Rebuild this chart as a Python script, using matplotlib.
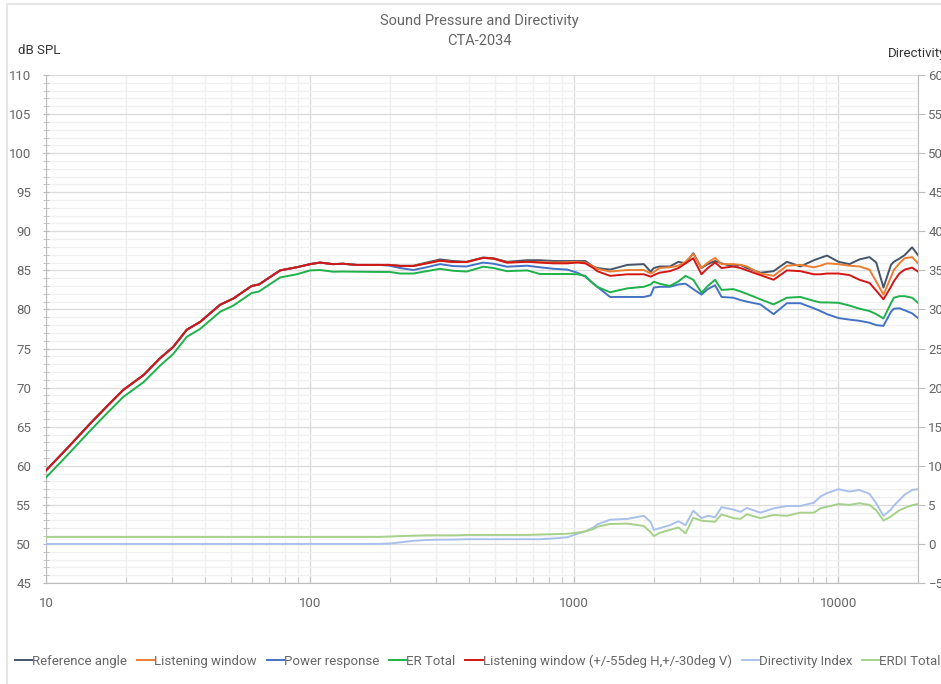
import matplotlib
matplotlib.use("Agg")
import matplotlib.pyplot as plt
from matplotlib.patches import Rectangle
from matplotlib.ticker import FixedLocator, NullFormatter, FuncFormatter
import numpy as np

plt.rcParams['font.family'] = ['Roboto', 'DejaVu Sans']

freq = [10, 12, 14.7, 17, 19.6, 23.4, 27, 30.3, 34.1, 38.3, 45.6, 51.2, 60, 64, 77, 89,
        100, 109, 122, 133, 150, 184, 200, 219, 246, 276, 310, 348, 391, 452, 495, 556,
        663, 740, 838, 941, 1027, 1100, 1180, 1221, 1366, 1588, 1832, 1945, 2000, 2100,
        2300, 2480, 2635, 2820, 3030, 3200, 3410, 3610, 4000, 4260, 4500, 5060, 5680,
        6380, 7170, 8070, 8540, 9050, 10000, 11000, 12000, 13100, 13900, 14800, 15800,
        16200, 17000, 17800, 19000, 20000]

rise = [59.4, 62.2, 65.4, 67.6, 69.7, 71.6, 73.75, 75.2, 77.4, 78.4, 80.6, 81.4, 83.0, 83.2, 85.0, 85.4]

lw2_spl = rise + [85.8, 86.0, 85.8, 85.85, 85.7, 85.7, 85.7, 85.56, 85.56, 85.9, 86.24, 86.07, 86.07, 86.6, 86.5, 86.0,
                  86.1, 86.0, 85.9, 85.9, 86.0, 85.9, 85.3, 84.9, 84.3, 84.5, 84.5, 84.2, 84.4, 84.7,
                  84.9, 85.3, 85.9, 86.55, 84.5, 85.3, 86.0, 85.3, 85.5, 85.3, 85.0, 84.4, 83.8,
                  85.0, 84.9, 84.5, 84.5, 84.6, 84.6, 84.4, 83.8, 83.4, 82.4, 81.3, 82.9,
                  83.6, 84.6, 85.1, 85.35, 84.85]

ref_spl = rise + [85.8, 86.0, 85.8, 85.85, 85.7, 85.7, 85.7, 85.6, 85.6, 86.0, 86.4, 86.2, 86.1, 86.65, 86.55, 86.1,
                  86.3, 86.3, 86.2, 86.2, 86.2, 86.2, 85.5, 85.3, 85.1, 85.7, 85.8, 84.85, 85.3, 85.5,
                  85.5, 86.1, 85.9, 87.2, 85.3, 85.8, 86.2, 85.9, 85.5, 85.7, 85.3, 84.7, 84.9,
                  86.1, 85.5, 86.3, 86.6, 86.9, 86.1, 85.8, 86.4, 86.7, 86.0, 82.8, 85.7,
                  86.1, 86.5, 86.95, 87.95, 86.95]

lw_spl = rise + [85.8, 86.0, 85.8, 85.85, 85.7, 85.7, 85.7, 85.56, 85.56, 85.9, 86.24, 86.07, 86.07, 86.6, 86.5, 86.0,
                 86.1, 86.05, 86.0, 86.05, 86.1, 86.0, 85.5, 85.2, 84.85, 85.05, 85.05, 84.6, 84.8, 85.3,
                 85.4, 85.6, 86.1, 87.1, 85.3, 86.0, 86.6, 85.8, 85.8, 85.7, 85.5, 84.6, 84.3,
                 85.6, 85.7, 85.4, 85.6, 85.9, 85.8, 85.6, 85.5, 85.1, 83.55, 81.9, 84.15,
                 85.05, 85.9, 86.55, 86.7, 85.9]

pr_spl = rise + [85.8, 86.0, 85.8, 85.85, 85.7, 85.7, 85.6, 85.3, 85.05, 85.4, 85.8, 85.55, 85.5, 86.0, 85.85, 85.47,
                 85.6, 85.4, 85.2, 85.1, 84.7, 84.2, 83.3, 82.9, 81.6, 81.6, 81.6, 81.8, 82.8, 82.9,
                 82.9, 83.2, 83.3, 82.6, 81.9, 82.6, 83.1, 81.6, 81.5, 81.2, 81.0, 80.65, 79.4,
                 80.8, 80.8, 80.15, 79.8, 79.4, 78.9, 78.7, 78.55, 78.3, 78.0, 77.9, 79.7,
                 80.1, 80.15, 79.9, 79.5, 78.9]

er_spl = [58.5, 61.3, 64.5, 66.7, 68.8, 70.7, 72.8, 74.3, 76.5, 77.5, 79.7, 80.5, 82.1, 82.3, 84.1, 84.5,
          85.0, 85.05, 84.83, 84.85, 84.83, 84.8, 84.8, 84.6, 84.6, 84.9, 85.2, 84.95, 84.85, 85.47, 85.3, 84.9,
          85.0, 84.54, 84.54, 84.54, 84.5, 84.3, 83.3, 82.9, 82.2, 82.7, 82.9, 83.2, 83.55, 83.3,
          83.0, 83.6, 84.3, 83.8, 82.15, 83.0, 83.8, 82.5, 82.6, 82.3, 82.0, 81.3, 80.65,
          81.5, 81.6, 81.1, 80.9, 80.9, 80.85, 80.5, 80.1, 79.8, 79.4, 78.85, 80.8,
          81.5, 81.7, 81.7, 81.5, 80.85]

di = [0]*22 + [0.05, 0.2, 0.4, 0.5, 0.55, 0.55, 0.6, 0.6, 0.6, 0.6,
               0.6, 0.6, 0.7, 0.85, 1.3, 1.6, 2.1, 2.5, 3.1, 3.2, 3.6, 2.8, 1.8, 2.0,
               2.4, 2.9, 2.4, 4.25, 3.3, 3.6, 3.4, 4.7, 4.4, 4.1, 4.6, 4.0, 4.55,
               4.85, 4.85, 5.28, 6.05, 6.5, 7.0, 6.7, 6.9, 6.4, 5.2, 3.6, 4.4,
               4.9, 5.6, 6.3, 6.9, 7.0]

erdi = [0.9]*22 + [0.95, 1.0, 1.05, 1.1, 1.1, 1.1, 1.15, 1.15, 1.15, 1.15,
                   1.15, 1.2, 1.25, 1.3, 1.45, 1.6, 1.9, 2.2, 2.55, 2.6, 2.3, 1.5, 1.0, 1.4,
                   1.8, 2.1, 1.35, 3.35, 2.97, 2.9, 2.84, 3.78, 3.3, 3.2, 3.8, 3.3, 3.7,
                   3.6, 4.0, 4.0, 4.55, 4.75, 5.1, 5.0, 5.2, 5.0, 4.3, 3.0, 3.5,
                   3.8, 4.3, 4.6, 4.95, 5.1]

labels = ["Reference angle", "Listening window", "Power response", "ER Total",
          "Listening window (+/-55deg H,+/-30deg V)", "Directivity Index", "ERDI Total"]
colors = ["#44546a", "#ed7d31", "#4472c4", "#1fb14a", "#d41515", "#a9c1ea", "#a6d18a"]

title_lines = ["Sound Pressure and Directivity", "CTA-2034"]
x_ticks = [10, 100, 1000, 10000]
left_ticks = list(range(45, 111, 5))
right_ticks = list(range(-5, 61, 5))

W, H = 941, 684
fig = plt.figure(figsize=(W/100, H/100), dpi=100)
ax = fig.add_axes([46/W, 1-583/H, (918-46)/W, (583-75)/H])
ax2 = ax.twinx()

TXT = "#666666"
for spine in ["top"]:
    ax.spines[spine].set_visible(False)
    ax2.spines[spine].set_visible(False)
ax2.spines["left"].set_visible(False)
ax2.spines["bottom"].set_visible(False)
for s in ["left", "bottom"]:
    ax.spines[s].set_color("#bdbdbd")
ax.spines["right"].set_visible(False)
ax2.spines["right"].set_color("#bdbdbd")

ax.set_xscale("log")
ax.set_xlim(10, 20000)
ax.set_ylim(45, 110)
ax2.set_ylim(-5, 60)

ax.xaxis.set_major_locator(FixedLocator(x_ticks))
ax.xaxis.set_major_formatter(FuncFormatter(lambda v, p: f"{int(v)}"))
minors = [m * d for d in [10, 100, 1000, 10000] for m in range(2, 10) if m * d <= 20000]
ax.xaxis.set_minor_locator(FixedLocator(minors))
ax.xaxis.set_minor_formatter(NullFormatter())
ax.set_yticks(left_ticks)
ax.set_yticks([v for v in range(45, 111) if v % 5], minor=True)
ax2.set_yticks(right_ticks)

ax.grid(True, which="major", axis="both", color="#dcdcdc", lw=1.0)
ax.grid(True, which="minor", axis="both", color="#f0f0f0", lw=1.0)
ax.set_axisbelow(True)

ax.tick_params(axis="x", which="both", direction="in", length=4, color="#bdbdbd",
               labelsize=9.5, labelcolor=TXT, pad=10)
ax.tick_params(axis="y", which="both", direction="inout", length=5, color="#bdbdbd",
               labelsize=9.5, labelcolor=TXT, pad=8)
ax2.tick_params(axis="y", which="both", direction="out", length=5, color="#bdbdbd",
                labelsize=9.5, labelcolor=TXT, pad=2.5)

spl_series = [ref_spl, lw_spl, pr_spl, er_spl, lw2_spl]
handles = []
for i, ys in enumerate(spl_series):
    h, = ax.plot(freq, ys, color=colors[i], lw=1.4, label=labels[i], zorder=3)
    handles.append(h)
for j, ys in enumerate([di, erdi]):
    h, = ax2.plot(freq, ys, color=colors[5 + j], lw=1.4, label=labels[5 + j], zorder=3)
    handles.append(h)

fig.text(479/W, 1-21/H, title_lines[0], ha="center", va="center", fontsize=10.5, color=TXT)
fig.text(479/W, 1-41/H, title_lines[1], ha="center", va="center", fontsize=10.5, color=TXT)
fig.text(18/W, 1-50/H, "dB SPL", ha="left", va="center", fontsize=9.5, color="#333333")
fig.text(888/W, 1-53/H, "Directivity", ha="left", va="center", fontsize=9.5, color="#333333")

fig.patches.append(Rectangle((7/W, -0.1), 1.2, 1 - 4/H + 0.1, transform=fig.transFigure,
                             fill=False, edgecolor="#e6e6e6", lw=1.5))

leg = fig.legend(handles=handles, loc="center", bbox_to_anchor=(478/W, 1-661/H), ncol=7,
                 frameon=False, fontsize=9.5, handlelength=1.3, handletextpad=0.0,
                 columnspacing=0.75, labelcolor=TXT, borderaxespad=0, borderpad=0)

fig.savefig("out.png", dpi=100)
